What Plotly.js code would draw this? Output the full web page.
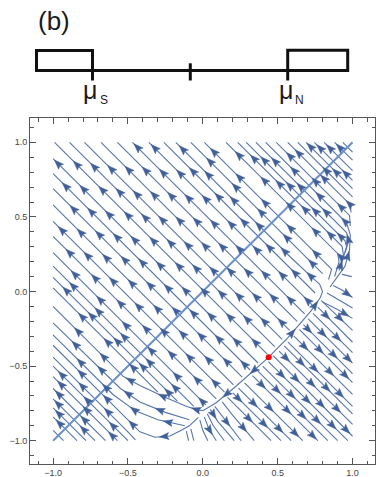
<!DOCTYPE html>
<html><head><meta charset="utf-8">
<script src="https://cdn.plot.ly/plotly-3.0.1.min.js"></script>
<style>html,body{margin:0;padding:0;background:#fff;} #chart{width:376px;height:477px;}</style>
</head><body><div id="chart"></div>
<script>
// ---------------- data ----------------
const tickVals = [-1, -0.5, 0, 0.5, 1];
const tickText = ['\u22121.0', '\u22120.5', '0.0', '0.5', '1.0'];
const redPointX = [0.44];
const redPointY = [-0.44];
const diagonalX = [-1, 1];
const diagonalY = [-1, 1];

// streamlines flowing up-left, straight: [tailX, tailY, headX, headY]
const upperStraight = [
  [0.02, -0.76, -1, 0.26], [0.09, -0.72, -1, 0.37], [0.145, -0.675, -1, 0.47],
  [0.205, -0.625, -1, 0.58], [0.263, -0.573, -1, 0.69], [0.316, -0.526, -1, 0.79],
  [0.369, -0.479, -1, 0.89],
  [0.43, -0.42, -0.99, 1], [0.48, -0.37, -0.89, 1], [0.53, -0.32, -0.79, 1],
  [0.58, -0.26, -0.68, 1], [0.63, -0.20, -0.57, 1], [0.68, -0.15, -0.47, 1],
  [0.73, -0.09, -0.36, 1], [0.75, -0.01, -0.26, 1], [0.80, 0.12, -0.08, 1],
  [1, 0.634, 0.634, 1], [1, 0.69, 0.69, 1], [1, 0.745, 0.745, 1],
  [1, 0.81, 0.81, 1], [1, 0.88, 0.88, 1], [1, 0.935, 0.935, 1],
  [-0.06, -0.77, -1, 0.17], [-0.17, -0.735, -1, 0.095], [-0.30, -0.675, -1, 0.025],
  [-0.5, -1, -1, -0.5], [-0.57, -1, -1, -0.57], [-0.65, -1, -1, -0.65],
  [-0.72, -1, -1, -0.72], [-0.78, -1, -1, -0.78], [-0.84, -1, -1, -0.84],
  [-0.93, -1, -1, -0.93]
];

// streamlines flowing up-left, curved (tail first)
const upperCurved = [
  [[0.84, 0.08], [0.86, 0.15], [0.01, 1]],
  [[0.88, 0.10], [0.91, 0.2], [0.9, 0.255], [0.155, 1]],
  [[0.91, 0.14], [0.94, 0.24], [0.93, 0.303], [0.233, 1]],
  [[0.93, 0.2], [0.96, 0.3], [0.95, 0.34], [0.29, 1]],
  [[0.95, 0.26], [0.975, 0.34], [0.96, 0.395], [0.355, 1]],
  [[0.85, 0.03], [0.95, 0.17], [0.98, 0.28], [0.985, 0.38], [0.96, 0.46], [0.42, 1]],
  [[0.985, 0.44], [0.98, 0.51], [0.49, 1]],
  [[0.99, 0.53], [0.985, 0.582], [0.567, 1]],
  [[-0.09, -0.86], [-0.25, -0.81], [-0.42, -0.74], [-0.55, -0.65], [-1, -0.21]],
  [[-0.12, -0.90], [-0.3, -0.86], [-0.45, -0.8], [-0.6, -0.69], [-1, -0.29]],
  [[-0.45, -0.995], [-0.5, -0.94], [-1, -0.44]]
];

// streamlines flowing down-right, straight: [tailX, tailY, headX, headY]
const lowerStraight = [
  [0.79, -0.06, 1, -0.26], [0.768, -0.105, 1, -0.34], [0.736, -0.147, 1, -0.41],
  [0.704, -0.184, 1, -0.48], [0.672, -0.222, 1, -0.55], [0.644, -0.254, 1, -0.61],
  [0.607, -0.297, 1, -0.69], [0.569, -0.339, 1, -0.77], [0.544, -0.364, 1, -0.82],
  [0.509, -0.399, 1, -0.89], [0.47, -0.43, 1, -0.97],
  [0.438, -0.47, 0.968, -1], [0.40, -0.50, 0.90, -1], [0.368, -0.533, 0.835, -1],
  [0.332, -0.564, 0.768, -1], [0.279, -0.612, 0.667, -1], [0.238, -0.648, 0.59, -1],
  [0.20, -0.68, 0.522, -1], [0.165, -0.709, 0.456, -1]
];

// streamlines flowing down/right, curved (tail first)
const lowerCurved = [
  [[0.87, 0.04], [0.93, 0.01], [1, -0.04]],
  [[0.83, -0.01], [0.92, -0.06], [1, -0.11]],
  [[0.80, -0.07], [0.9, -0.12], [1, -0.18]],
  [[0.93, 0.115], [0.995, 0.1]],
  [[0.13, -0.74], [0.2, -0.83], [0.344, -1]],
  [[0.08, -0.77], [0.14, -0.85], [0.256, -1]],
  [[0.05, -0.79], [0.1, -0.87], [0.21, -1]],
  [[0.03, -0.82], [0.07, -0.9], [0.144, -1]],
  [[0.01, -0.84], [0.04, -0.92], [0.09, -1]],
  [[-0.02, -0.86], [0.0, -0.93], [0.033, -1]],
  [[-0.08, -0.92], [-0.07, -0.96], [-0.06, -1]],
  [[-0.11, -0.935], [-0.10, -0.97], [-0.095, -1]]
];

// the trajectories leaving the red point, and the one below the lower bend
const separatrixUpper = [[0.45, -0.43], [0.567, -0.31], [0.723, -0.13], [0.785, -0.04], [0.80, 0.0],
  [0.78, 0.05], [0.74, 0.085], [0.583, 0.233], [-0.18, 1]];
const separatrixLower = [[0.43, -0.45], [0.21, -0.645], [0.089, -0.745], [0.03, -0.78], [0.004, -0.797],
  [-0.03, -0.795], [-0.107, -0.77], [-0.26, -0.705], [-0.42, -0.63], [-0.53, -0.57], [-1, -0.10]];
const lowerTrajectory = [[-0.03, -0.843], [-0.09, -0.9], [-0.14, -0.928], [-0.22, -0.968],
  [-0.32, -0.977], [-0.42, -0.94], [-1, -0.36]];

// ---------------- drawing ----------------
const W = 376, H = 477;
const M = {l: 30, r: 1, t: 118, b: 13};
const plotW = W - M.l - M.r, plotH = H - M.t - M.b;
const X_RANGE = [-1.154, 1.150];
const Y_RANGE = [-1.156, 1.163];
const KX = plotW / (X_RANGE[1] - X_RANGE[0]);
const KY = plotH / (Y_RANGE[1] - Y_RANGE[0]);

const toPoly = r => [[r[0], r[1]], [r[2], r[3]]];
const streams = [].concat(
  upperStraight.map(toPoly), upperCurved,
  lowerStraight.map(toPoly), lowerCurved,
  [separatrixUpper, separatrixLower, lowerTrajectory]
);

const lx = [], ly = [];
streams.forEach(p => { p.forEach(q => { lx.push(q[0]); ly.push(q[1]); }); lx.push(null); ly.push(null); });

// arrowheads along each streamline, evenly spaced in screen pixels (drawn as small filled polygons)
const SP = 36, AL = 9.5, AW = 7, NOTCH = 0.82;
const hx = [], hy = [];
streams.forEach((p, i) => {
  const segs = [];
  let L = 0;
  for (let k = 0; k < p.length - 1; k++) {
    const dx = (p[k+1][0] - p[k][0]) * KX, dy = -(p[k+1][1] - p[k][1]) * KY;
    const len = Math.hypot(dx, dy);
    segs.push({k, len, start: L, dx, dy});
    L += len;
  }
  const frac = (i * 0.618034) % 1;
  for (let s = 10 + frac * SP; s < L - 1; s += SP) {
    const sg = segs.find(g => s >= g.start && s <= g.start + g.len) || segs[segs.length - 1];
    if (!sg.len) continue;
    const t = (s - sg.start) / sg.len;
    const a = p[sg.k], b = p[sg.k + 1];
    const tx = a[0] + (b[0] - a[0]) * t, ty = a[1] + (b[1] - a[1]) * t;
    const ux = sg.dx / sg.len, uy = sg.dy / sg.len;       // screen unit direction
    const nx = -uy, ny = ux;
    const pts = [
      [0, 0],
      [-AL * ux + AW / 2 * nx, -AL * uy + AW / 2 * ny],
      [-AL * NOTCH * ux, -AL * NOTCH * uy],
      [-AL * ux - AW / 2 * nx, -AL * uy - AW / 2 * ny],
      [0, 0]
    ];
    pts.forEach(q => { hx.push(tx + q[0] / KX); hy.push(ty - q[1] / KY); });
    hx.push(null); hy.push(null);
  }
});

const LINE_C = '#5676ab';
const ARROW_C = '#41609a';

const traces = [
  {x: lx, y: ly, mode: 'lines', line: {color: LINE_C, width: 1.1}, hoverinfo: 'skip', connectgaps: false},
  {x: diagonalX, y: diagonalY, mode: 'lines', line: {color: '#6b90ca', width: 2}, hoverinfo: 'skip'},
  {x: hx, y: hy, mode: 'lines', fill: 'toself', fillcolor: ARROW_C, line: {color: ARROW_C, width: 0.5},
   hoverinfo: 'skip', connectgaps: false},
  {x: redPointX, y: redPointY, mode: 'markers', marker: {color: '#ff0000', size: 6}, hoverinfo: 'skip'}
];

// pixel helpers for the schematic above the plot
const px = v => (v - M.l) / plotW;
const py = v => (H - M.b - v) / plotH;
const K = '#111';
const shapes = [
  {type: 'rect', xref: 'paper', yref: 'paper', x0: px(36.5), x1: px(92.5), y0: py(50.5), y1: py(70.5), line: {color: K, width: 3}},
  {type: 'rect', xref: 'paper', yref: 'paper', x0: px(287.7), x1: px(347.7), y0: py(50.3), y1: py(70.5), line: {color: K, width: 3}},
  {type: 'line', xref: 'paper', yref: 'paper', x0: px(92.5), x1: px(287.7), y0: py(70.5), y1: py(70.5), line: {color: K, width: 3}},
  {type: 'line', xref: 'paper', yref: 'paper', x0: px(92.5), x1: px(92.5), y0: py(70), y1: py(80.5), line: {color: K, width: 3}},
  {type: 'line', xref: 'paper', yref: 'paper', x0: px(190.3), x1: px(190.3), y0: py(63.3), y1: py(80.5), line: {color: K, width: 3}},
  {type: 'line', xref: 'paper', yref: 'paper', x0: px(287.7), x1: px(287.7), y0: py(70), y1: py(80.5), line: {color: K, width: 3}}
];
const FONT = 'Liberation Sans, Arial, sans-serif';
const ann = (t, x, y, s) => ({text: t, xref: 'paper', yref: 'paper', x: px(x), y: py(y), xanchor: 'center', yanchor: 'middle',
  showarrow: false, font: {family: FONT, size: s, color: '#1a1a1a'}});
const annotations = [
  ann('(b)', 53.5, 21, 26),
  ann('\u03bc', 90.3, 90, 25), ann('S', 104.3, 100, 12),
  ann('\u03bc', 285.8, 90, 25), ann('N', 299.5, 100, 12)
];

const axisCommon = {
  tickmode: 'array', tickvals: tickVals, ticktext: tickText,
  ticks: 'inside', ticklen: 6, tickwidth: 1, tickcolor: '#555',
  showline: true, linecolor: '#555', linewidth: 1, mirror: 'ticks',
  showgrid: false, zeroline: false, fixedrange: true,
  tickfont: {family: FONT, size: 9, color: '#444'},
  minor: {tickmode: 'linear', tick0: 0, dtick: 0.1, ticks: 'inside', ticklen: 3.5, tickwidth: 1, tickcolor: '#555', showgrid: false}
};

const layout = {
  width: W, height: H, margin: M, showlegend: false,
  paper_bgcolor: '#fff', plot_bgcolor: '#fff',
  xaxis: Object.assign({range: X_RANGE}, axisCommon),
  yaxis: Object.assign({range: Y_RANGE}, axisCommon),
  shapes, annotations
};

Plotly.newPlot('chart', traces, layout, {staticPlot: true, displayModeBar: false});
</script></body></html>
